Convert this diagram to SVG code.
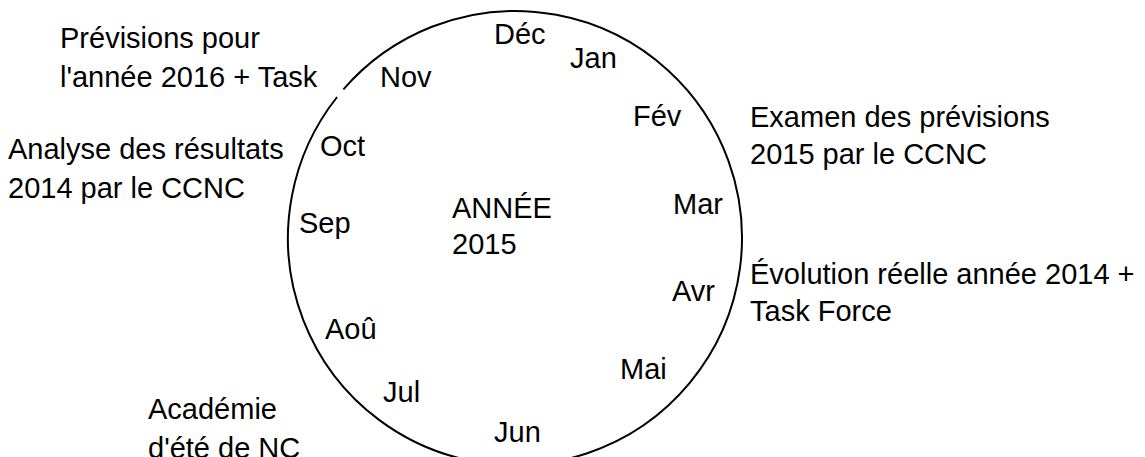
<svg xmlns="http://www.w3.org/2000/svg" width="1145" height="457" viewBox="0 0 1145 457">
<style>
text{font-family:"Liberation Sans",Arial,sans-serif;font-size:29px;fill:#000}
.ring{fill:none;stroke:#000;stroke-width:2}
</style>
<rect width="1145" height="457" fill="#fff"/>
<g id="connectors">
<path class="ring" d="M337.1,97 A227,227 0 1 0 343.4,89.4"/>
</g>
<g id="center"><text x="452" y="218">ANNÉE</text><text x="452" y="254">2015</text></g>
<g id="m-dec"><text x="494" y="44">Déc</text></g>
<g id="m-jan"><text x="570" y="68">Jan</text></g>
<g id="m-fev"><text x="633" y="126">Fév</text></g>
<g id="m-mar"><text x="673" y="214">Mar</text></g>
<g id="m-avr"><text x="672" y="301">Avr</text></g>
<g id="m-mai"><text x="620" y="379">Mai</text></g>
<g id="m-jun"><text x="494" y="442">Jun</text></g>
<g id="m-jul"><text x="383" y="402">Jul</text></g>
<g id="m-aou"><text x="325" y="339">Aoû</text></g>
<g id="m-sep"><text x="299" y="233">Sep</text></g>
<g id="m-oct"><text x="320" y="156">Oct</text></g>
<g id="m-nov"><text x="380" y="87">Nov</text></g>
<g id="note-prev2016"><text x="60" y="48">Prévisions pour</text><text x="60" y="87">l'année 2016 + Task</text></g>
<g id="note-analyse"><text x="8" y="159">Analyse des résultats</text><text x="8" y="198">2014 par le CCNC</text></g>
<g id="note-academie"><text x="148" y="419">Académie</text><text x="148" y="458">d'été de NC</text></g>
<g id="note-examen"><text x="750" y="127">Examen des prévisions</text><text x="750" y="164">2015 par le CCNC</text></g>
<g id="note-evolution"><text x="750" y="284">Évolution réelle année 2014 +</text><text x="750" y="321">Task Force</text></g>
</svg>
